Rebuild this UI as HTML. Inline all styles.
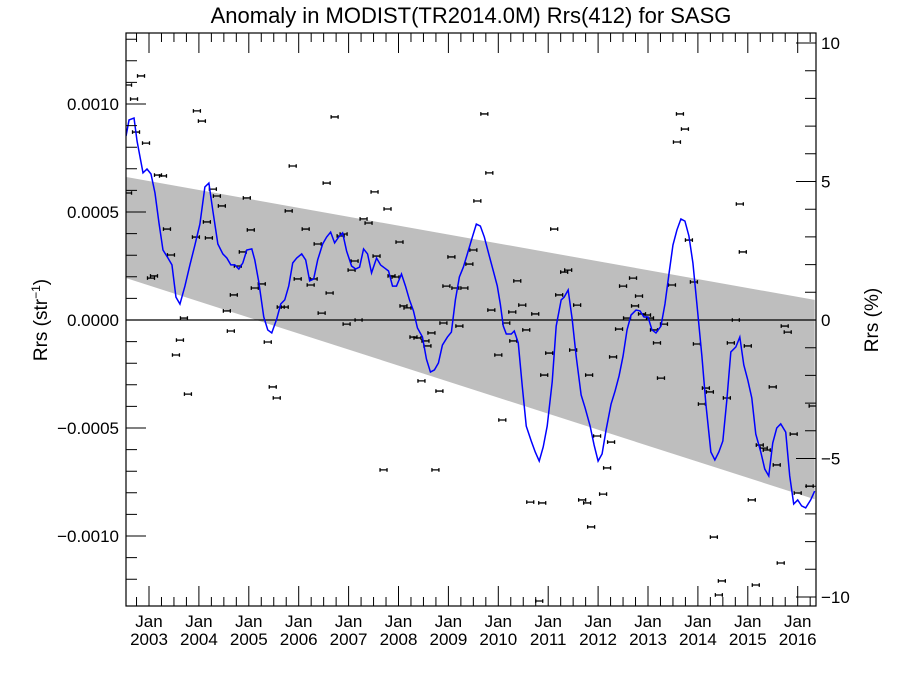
<!DOCTYPE html>
<html><head><meta charset="utf-8"><style>
body{margin:0;background:#fff}
svg text{font-family:"Liberation Sans",sans-serif;fill:#000}
</style></head><body>
<svg id="chart" width="900" height="675" viewBox="0 0 900 675" xmlns="http://www.w3.org/2000/svg">
<text x="471" y="23" font-size="22" text-anchor="middle">Anomaly in MODIST(TR2014.0M) Rrs(412) for SASG</text>
<text transform="translate(47,320) rotate(-90)" font-size="19" text-anchor="middle">Rrs (str<tspan baseline-shift="super" font-size="12">−1</tspan>)</text>
<text transform="translate(878,320) rotate(-90)" font-size="19" text-anchor="middle">Rrs (%)</text>
<g id="plot"></g>
</svg>
<script>
// band (trend uncertainty) endpoints, units 1e-4 str^-1
const bandDates = [2002.54, 2016.34];
const bandUpper = [6.62, 0.93];
const bandLower = [1.94, -8.3];
// scatter monthly anomalies (date, value in 1e-4 str^-1)
const ptDates = [2002.58,2002.58,2002.70,2002.74,2002.84,2002.94,2003.04,2003.10,2003.18,2003.28,2003.36,2003.44,2003.54,2003.62,2003.70,2003.78,2003.94,2003.96,2004.06,2004.16,2004.20,2004.28,2004.36,2004.46,2004.56,2004.64,2004.70,2004.78,2004.88,2004.96,2005.04,2005.12,2005.26,2005.38,2005.48,2005.56,2005.64,2005.72,2005.80,2005.88,2005.98,2006.14,2006.24,2006.30,2006.38,2006.46,2006.56,2006.62,2006.72,2006.84,2006.90,2006.96,2007.06,2007.12,2007.20,2007.30,2007.40,2007.52,2007.56,2007.70,2007.78,2007.86,2007.94,2008.02,2008.10,2008.18,2008.30,2008.38,2008.46,2008.54,2008.58,2008.66,2008.74,2008.82,2008.90,2008.96,2009.06,2009.14,2009.22,2009.32,2009.42,2009.50,2009.58,2009.72,2009.82,2009.86,2010.00,2010.08,2010.16,2010.28,2010.30,2010.38,2010.48,2010.56,2010.64,2010.74,2010.82,2010.88,2010.92,2011.02,2011.12,2011.22,2011.32,2011.40,2011.50,2011.58,2011.68,2011.78,2011.82,2011.86,2011.98,2012.10,2012.18,2012.26,2012.30,2012.42,2012.50,2012.58,2012.70,2012.74,2012.82,2012.88,2012.98,2013.04,2013.12,2013.18,2013.26,2013.32,2013.48,2013.58,2013.64,2013.74,2013.82,2013.92,2013.98,2014.08,2014.16,2014.24,2014.32,2014.42,2014.48,2014.58,2014.66,2014.76,2014.84,2014.90,2015.00,2015.08,2015.16,2015.24,2015.32,2015.38,2015.50,2015.58,2015.66,2015.74,2015.80,2015.92,2016.00,2016.24,2016.30];
const ptValues = [10.88,5.88,10.23,8.70,11.30,8.19,1.94,2.04,6.71,6.67,4.21,3.01,-1.62,-0.93,0.09,-3.43,3.84,9.68,9.21,4.54,3.80,6.06,5.74,5.28,0.42,-0.51,1.16,2.50,3.15,5.65,4.17,1.48,1.67,-1.02,-3.10,-3.61,0.60,0.60,5.05,7.13,1.90,4.21,1.62,1.90,3.52,0.32,6.34,1.25,9.40,3.89,3.98,-0.19,2.31,2.73,0.00,4.68,4.49,5.93,2.96,-6.94,5.14,2.04,1.99,3.61,0.65,0.56,-0.79,-0.83,-2.82,-0.97,-1.20,-0.60,-6.94,-3.29,-0.14,1.57,2.92,1.48,-0.28,1.48,2.59,3.24,5.51,9.54,6.81,0.46,-1.62,-4.63,-0.14,0.37,-0.97,1.81,0.69,-0.46,-8.43,0.28,-13.01,-8.47,-2.55,-1.53,4.21,1.16,2.22,2.31,-1.39,0.69,-8.33,-8.47,-2.55,-9.58,-5.37,-8.06,-6.85,-5.65,-1.71,-0.42,1.57,0.09,1.94,0.65,1.11,0.28,0.23,0.09,-0.46,-1.06,-2.69,-0.19,1.62,8.24,9.54,8.84,3.70,1.76,-1.11,-3.89,-3.15,-3.33,-10.05,-12.73,-12.08,-3.61,-1.06,0.00,5.37,3.15,-1.20,-8.33,-12.27,-5.79,-5.93,-6.02,-3.10,-6.71,-11.25,-0.28,-0.56,-5.28,-8.01,-7.69,-3.98];
// smoothed series
const lineDates = [2002.54,2002.60,2002.70,2002.76,2002.88,2002.96,2003.04,2003.12,2003.20,2003.28,2003.38,2003.46,2003.54,2003.62,2003.72,2003.82,2003.92,2004.02,2004.12,2004.20,2004.28,2004.38,2004.48,2004.56,2004.64,2004.72,2004.80,2004.88,2004.96,2005.06,2005.12,2005.20,2005.30,2005.38,2005.46,2005.56,2005.64,2005.72,2005.80,2005.88,2005.96,2006.06,2006.14,2006.22,2006.30,2006.38,2006.48,2006.56,2006.64,2006.72,2006.80,2006.88,2006.96,2007.06,2007.14,2007.22,2007.30,2007.38,2007.46,2007.56,2007.64,2007.72,2007.80,2007.88,2007.96,2008.06,2008.14,2008.22,2008.30,2008.38,2008.48,2008.56,2008.64,2008.72,2008.80,2008.88,2008.98,2009.06,2009.14,2009.22,2009.30,2009.38,2009.48,2009.56,2009.64,2009.72,2009.82,2009.90,2009.98,2010.04,2010.10,2010.16,2010.26,2010.32,2010.40,2010.48,2010.56,2010.66,2010.74,2010.82,2010.90,2010.98,2011.08,2011.16,2011.26,2011.32,2011.40,2011.48,2011.56,2011.66,2011.74,2011.84,2011.92,2012.00,2012.08,2012.16,2012.26,2012.34,2012.42,2012.50,2012.58,2012.66,2012.76,2012.84,2012.92,2013.00,2013.08,2013.16,2013.26,2013.34,2013.42,2013.50,2013.58,2013.66,2013.74,2013.82,2013.90,2013.98,2014.08,2014.16,2014.26,2014.34,2014.42,2014.50,2014.58,2014.66,2014.76,2014.84,2014.92,2015.00,2015.08,2015.16,2015.26,2015.34,2015.42,2015.50,2015.58,2015.66,2015.76,2015.84,2015.92,2016.00,2016.08,2016.16,2016.26,2016.34];
const lineValues = [8.52,9.26,9.35,8.29,6.81,6.99,6.76,5.88,4.49,3.24,2.87,2.55,1.06,0.74,1.57,2.55,3.47,4.44,6.16,6.34,5.05,3.52,3.06,2.87,2.55,2.55,2.36,2.64,3.24,3.29,2.78,1.76,0.14,-0.46,-0.60,0.05,0.74,0.93,1.57,2.64,2.87,3.06,2.78,1.81,1.90,2.78,3.52,3.84,4.07,3.57,3.84,4.03,3.19,2.50,2.36,2.45,3.29,3.06,2.18,2.87,2.55,2.41,2.27,1.57,1.57,2.13,1.57,0.93,0.42,-0.37,-0.79,-1.81,-2.41,-2.31,-1.99,-1.16,-0.79,-0.56,0.93,1.99,2.45,3.06,3.84,4.44,4.35,3.84,2.96,2.27,1.57,0.74,-0.28,-0.65,-0.65,-0.51,-1.06,-3.06,-4.91,-5.60,-6.11,-6.53,-5.88,-4.91,-2.87,-0.28,0.93,1.06,1.39,0.05,-1.67,-3.47,-4.07,-4.91,-5.79,-6.53,-6.20,-5.09,-3.89,-3.29,-2.59,-1.67,-0.46,0.23,0.46,0.42,0.14,0.14,-0.46,-0.60,-0.28,0.74,2.13,3.47,4.17,4.68,4.58,3.89,2.64,0.74,-1.67,-3.89,-6.11,-6.48,-6.11,-5.60,-3.70,-1.48,-1.25,-0.79,-2.08,-2.78,-3.61,-5.28,-6.11,-6.90,-7.22,-5.69,-5.00,-4.81,-5.19,-7.22,-8.52,-8.33,-8.61,-8.70,-8.33,-7.92];
const leftTicks = [-10,-5,0,5,10];
const leftTickLabels = ["\u22120.0010","\u22120.0005","0.0000","0.0005","0.0010"];
const rightTicks = [-10,-5,0,5,10];
const years = [2003,2004,2005,2006,2007,2008,2009,2010,2011,2012,2013,2014,2015,2016];

const L=126,R=816,T=33,B=606;
const xs = d => 149 + (d-2003)*49.9;
const ys = v => 320 - v*21.6;        // v in 1e-4 units
const yp = p => 320 - p*27.7;        // percent
const NS="http://www.w3.org/2000/svg";
const g=document.getElementById('plot');
function mk(tag,attrs){const e=document.createElementNS(NS,tag);for(const k in attrs)e.setAttribute(k,attrs[k]);g.appendChild(e);return e;}

const clip=document.createElementNS(NS,'clipPath');clip.setAttribute('id','pc');
const cr=document.createElementNS(NS,'rect');cr.setAttribute('x',L);cr.setAttribute('y',T);cr.setAttribute('width',R-L);cr.setAttribute('height',B-T);
clip.appendChild(cr);g.appendChild(clip);

const band=mk('polygon',{points:`${xs(bandDates[0])},${ys(bandUpper[0])} ${xs(bandDates[1])},${ys(bandUpper[1])} ${xs(bandDates[1])},${ys(bandLower[1])} ${xs(bandDates[0])},${ys(bandLower[0])}`,fill:'#bebebe','clip-path':'url(#pc)'});



const zl=mk('line',{x1:L,x2:R,y1:ys(0),y2:ys(0),stroke:'#000','stroke-width':1.3});



ptDates.forEach((d,i)=>{
  const x=xs(d),y=ys(ptValues[i]);
  const p=mk('path',{d:`M${x-3.5},${y}H${x+3.5}M${x-3.5},${y-1.8}V${y+1.8}M${x+3.5},${y-1.8}V${y+1.8}`,stroke:'#000','stroke-width':1.3,fill:'none','clip-path':'url(#pc)'});
  
  
});

const ln=mk('polyline',{points:lineDates.map((d,i)=>`${xs(d)},${ys(lineValues[i])}`).join(' '),fill:'none',stroke:'#0000ff','stroke-width':1.5,'clip-path':'url(#pc)'});



const fr=mk('rect',{x:L,y:T,width:R-L,height:B-T,fill:'none',stroke:'#000','stroke-width':1.2});



// left ticks
let tp='';
for(let v=-12;v<=13;v++){const y=ys(v);if(y<T||y>B)continue;const len=(v%5===0)?20:11;tp+=`M${L},${y}H${L+len}`;}
for(let p=-10;p<=10;p++){const y=yp(p);if(y<T||y>B)continue;const len=(p%5===0)?20:11;tp+=`M${R},${y}H${R-len}`;}
for(let m=2002.75;m<2016.4;m+=0.25){const x=xs(m);if(x<L||x>R)continue;const len=(Math.abs(m-Math.round(m))<0.01)?20:9;tp+=`M${x},${B}V${B-len}M${x},${T}V${T+len}`;}
const ticks=mk('path',{d:tp,stroke:'#000','stroke-width':1,fill:'none'});



leftTicks.forEach((v,i)=>{
  const t=mk('text',{x:L-7,y:ys(v)+6,'font-size':17,'text-anchor':'end'});t.textContent=leftTickLabels[i];
  
  
});
rightTicks.forEach(p=>{
  const t=mk('text',{x:R+5,y:yp(p)+6,'font-size':17,'text-anchor':'start'});t.textContent=(p<0?'\u2212':'')+Math.abs(p);
  
  
});
years.forEach(yr=>{
  const x=xs(yr);
  const a=mk('text',{x:x,y:627,'font-size':17,'text-anchor':'middle'});a.textContent='Jan';
  
  
  const b=mk('text',{x:x,y:645,'font-size':17,'text-anchor':'middle'});b.textContent=String(yr);
  
  
});
</script>
</body></html>
